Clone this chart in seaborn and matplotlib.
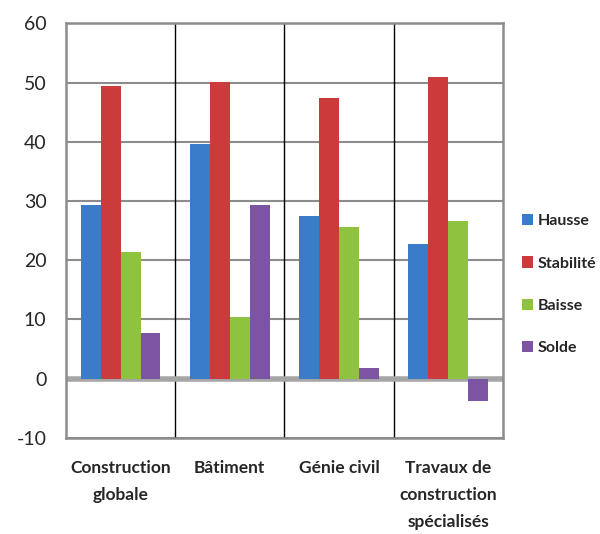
import numpy as np
import pandas as pd
import matplotlib
matplotlib.use("Agg")
import matplotlib.pyplot as plt
import seaborn as sns

categories = ["Construction\nglobale", "Bâtiment", "Génie civil", "Travaux de\nconstruction\nspécialisés"]
series = ["Hausse", "Stabilité", "Baisse", "Solde"]
hausse = [29.3, 39.7, 27.4, 22.8]
stabilite = [49.5, 50.2, 47.4, 51.0]
baisse = [21.4, 10.4, 25.6, 26.6]
solde = [7.8, 29.4, 1.8, -3.7]
yticks = [-10, 0, 10, 20, 30, 40, 50, 60]

colors = ["#3b7cc8", "#cc3b3b", "#8fc23e", "#7b55a3"]

df = pd.DataFrame({
    "categorie": categories * 4,
    "serie": np.repeat(series, 4),
    "valeur": hausse + stabilite + baisse + solde,
})

sns.set_style("white")
plt.rcParams["font.family"] = ["Lato", "DejaVu Sans"]

fig = plt.figure(figsize=(6, 5.34), dpi=100)
ax = fig.add_axes([0.11, 0.18, 0.728, 0.776])

sns.barplot(data=df, x="categorie", y="valeur", hue="serie", hue_order=series,
            order=categories, palette=colors, saturation=1, width=0.73, gap=0.0,
            edgecolor="none", ax=ax, zorder=3)

ax.set_ylim(-10, 60)
ax.set_xlim(-0.5, 3.5)
ax.set_yticks(yticks)
ax.set_yticklabels([str(t) for t in yticks], fontsize=14)
ax.yaxis.grid(True, color="#8c8c8c", lw=1.5, zorder=0)
ax.axhline(0, color="#a6a6a6", lw=4, zorder=2)
for x in [0.5, 1.5, 2.5]:
    ax.axvline(x, color="black", lw=1, zorder=1)

for s in ax.spines.values():
    s.set_color("#8c8c8c")
    s.set_linewidth(1.8)

ax.set_xlabel("")
ax.set_ylabel("")
ax.tick_params(axis="x", length=0, pad=16)
ax.tick_params(axis="y", length=0, pad=14)
for lab in ax.get_xticklabels():
    lab.set_fontweight("bold")
    lab.set_fontsize(12.5)
    lab.set_verticalalignment("top")
    lab.set_multialignment("center")
    lab.set_linespacing(1.85)

handles, labels = ax.get_legend_handles_labels()
ax.legend(handles, labels, loc="center left", bbox_to_anchor=(1.01, 0.37),
          frameon=False, labelspacing=1.75, handlelength=0.7, handleheight=0.7,
          handletextpad=0.3, prop={"weight": "bold", "size": 11.5})

fig.savefig("out.png", dpi=100)
